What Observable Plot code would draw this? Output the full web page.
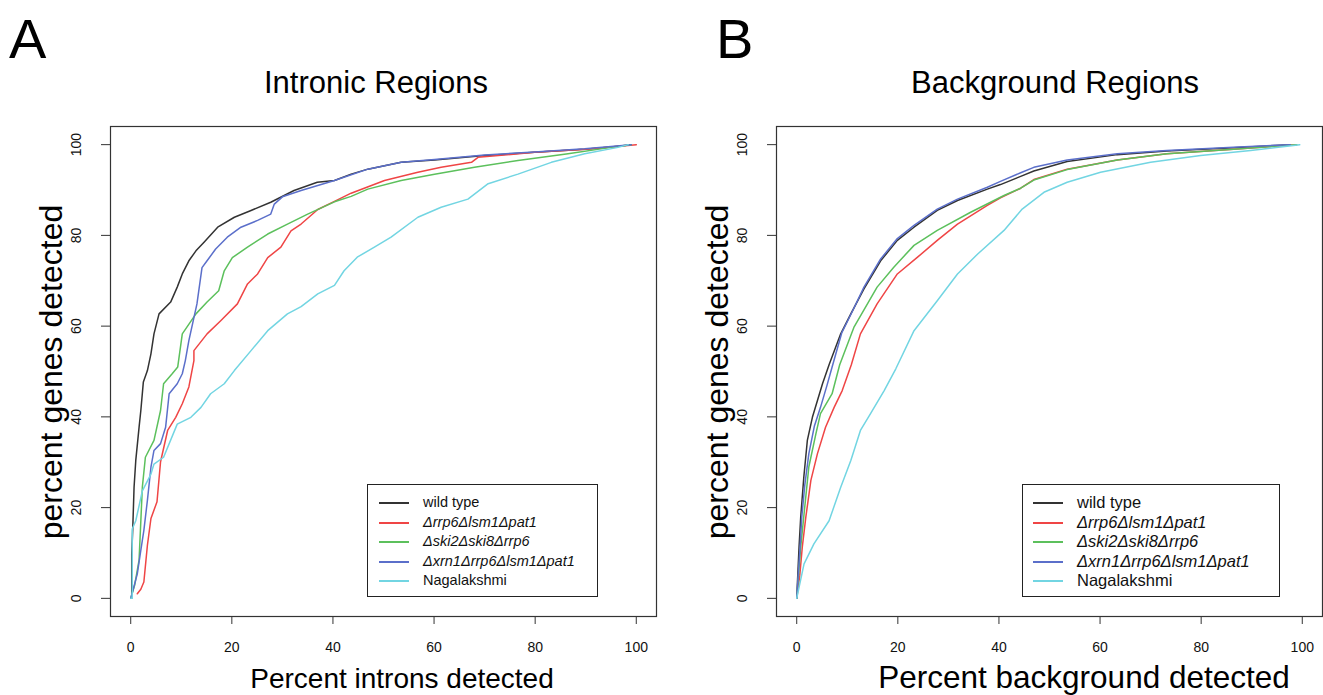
<!DOCTYPE html>
<html><head><meta charset="utf-8">
<script src="https://cdn.jsdelivr.net/npm/d3@7"></script>
<script src="https://cdn.jsdelivr.net/npm/@observablehq/plot@0.6"></script>
<style>
body{margin:0;background:#fff;}
#fig{position:relative;width:1323px;height:695px;overflow:hidden;background:#fff;font-family:"Liberation Sans",Arial,Helvetica,sans-serif;}
#fig .panel{position:absolute;top:0;}
#fig .overlay{position:absolute;top:0;left:0;pointer-events:none;}
.legend{position:absolute;border:1px solid #222;background:#fff;box-sizing:border-box;}
.legend .row{position:absolute;left:0;right:0;height:0;}
.legend .swatch{position:absolute;height:0;border-top:2px solid;transform:translateY(-1px);}
.legend .lab{position:absolute;white-space:nowrap;transform:translateY(-55%);color:#111;}
</style></head><body><div id="fig"></div><script>
// ---- series (legend order) ----
const seriesNames = ["wild type", "Δrrp6Δlsm1Δpat1", "Δski2Δski8Δrrp6", "Δxrn1Δrrp6Δlsm1Δpat1", "Nagalakshmi"];
const seriesColors = ["#333333", "#ef4545", "#5cc05c", "#5b6fca", "#72d5e2"];
const xTicks = [0, 20, 40, 60, 80, 100];
const yTicks = [0, 20, 40, 60, 80, 100];

// ---- Panel A: Intronic Regions  [percent introns detected, percent genes detected] ----
const intronWildType = [[0,0],[0.2,0],[0.2,9.8],[0.4,15.3],[0.66,24.5],[1.0,30.4],[1.65,37.7],[2.0,41.4],[2.5,47.7],[3.3,50.2],[4.0,53.9],[4.6,58.3],[5.6,62.7],[7.9,65.3],[9.2,68.6],[10.2,71.5],[11.5,74.4],[12.9,76.6],[14.5,78.5],[17.2,81.8],[20.5,84.0],[23.8,85.5],[27.7,87.3],[32.3,89.9],[36.9,91.7],[40.3,92.1],[43.6,93.5],[46.9,94.6],[53.5,96.1],[60.1,96.6],[70,97.6],[79.9,98.3],[89.8,99.0],[95,99.5],[99,100]];
const intronRrp6 = [[1.3,1],[2.0,2],[2.6,3.6],[3.3,11.7],[4.0,17.6],[5.2,21.3],[5.9,30.1],[7.3,37],[8.9,39.9],[10.2,42.9],[11.5,46.6],[12.5,52.4],[12.5,54.6],[15.1,58.3],[17.8,61.2],[21.1,64.9],[23.1,69.3],[25.1,71.5],[27.1,75.1],[29.7,77.4],[31.7,81],[33.7,82.5],[37,85.7],[40.3,87.5],[43.6,89.3],[50.2,92.1],[56.8,93.9],[61.4,95],[67.4,96.1],[68.7,97.2],[79.9,98.3],[90,99],[100,100]];
const intronSki = [[0,0],[0.8,3],[1.65,8.4],[2.3,24.5],[2.9,31.1],[4.6,34.8],[5.9,41.4],[6.5,47.3],[8.2,49.5],[9.3,51],[10.2,58.3],[12.9,62.7],[15.1,65.3],[17.4,67.8],[18.5,72.2],[20.1,75.1],[23.1,77.4],[27.1,80.3],[31.0,82.5],[35.0,84.7],[40.3,87.4],[43.6,88.6],[46.9,90.2],[53.5,92.1],[60.1,93.5],[68,95],[76.6,96.5],[86.5,98],[95,99.4],[99,100]];
const intronXrn1 = [[0,0],[0.5,2],[1.3,5.4],[2.0,10.6],[2.6,15],[3.3,21.6],[4.0,28.9],[4.6,32.6],[5.9,34.1],[6.9,37.7],[7.6,45.1],[9.2,47.3],[10.2,49.5],[10.8,52.4],[11.5,56.8],[13.1,64.9],[14.1,72.9],[15.1,74.4],[16.8,77.0],[19.1,79.6],[21.8,81.8],[25.1,83.3],[27.7,84.7],[28.4,86.9],[30,88.5],[33.7,89.9],[40.3,92.1],[46.9,94.6],[53.5,96.1],[60.1,96.7],[70,97.7],[79.9,98.4],[89.8,99.1],[95,99.6],[99,100]];
const intronNagalakshmi = [[0,0],[0.3,0],[0.3,15.3],[1.0,17.1],[2.3,23.7],[4.0,27.4],[4.6,29.6],[6.5,31.1],[9.2,38.4],[11.9,39.9],[13.9,42.1],[15.8,45.1],[18.5,47.3],[20.5,50.2],[23.8,54.6],[27.1,59],[31,62.7],[33.7,64.3],[37,67.1],[40.3,69],[42.2,72.2],[44.8,75.2],[48.2,77.4],[51.5,79.6],[56.8,84],[61.4,86.2],[66.7,88],[70.7,91.4],[76.6,93.5],[83.2,96.1],[89.8,98],[96.4,99.4],[98.4,100]];

// ---- Panel B: Background Regions  [percent background detected, percent genes detected] ----
const bgWildType = [[0,0],[0.46,11.3],[0.79,17.9],[1.4,26.7],[2.1,34.8],[3.1,39.9],[4.1,43.6],[5.1,47.3],[6.4,51.5],[8.7,58.3],[10.7,62.7],[13.3,68.2],[16.6,74.4],[19.9,78.9],[23.2,81.8],[27.8,85.5],[31.8,87.7],[37.7,90.2],[40.3,91.2],[44.3,93.0],[46.9,94.2],[53.5,96.3],[63.4,97.8],[73.2,98.6],[86.4,99.3],[97.6,100]];
const bgRrp6 = [[0,0],[0.6,5],[1.1,11.3],[1.8,17.9],[2.8,26],[4.1,31.9],[5.7,37.7],[7.4,42.1],[9,45.8],[10.8,51.5],[12.6,58.3],[15.9,64.9],[19.9,71.5],[23.9,75.2],[27.8,78.9],[31.8,82.5],[37.7,86.6],[40.3,88.3],[44.3,90.4],[46.9,92.3],[53.5,94.6],[63.4,96.6],[73.2,98],[86.4,99],[98.9,100]];
const bgSki = [[0,0],[0.79,11.3],[1.45,18.6],[2.4,29],[3.8,36.3],[4.7,40.7],[7.0,45.1],[8.5,51.5],[11.3,59.7],[15.9,68.6],[19.2,73],[23.2,77.8],[27.8,81.1],[34.4,85.1],[41,88.8],[44.3,90.4],[46.9,92.2],[53.5,94.5],[63.4,96.6],[73.2,98],[86.4,99],[98.9,100]];
const bgXrn1 = [[0,0],[0.66,11.3],[1.0,17.9],[1.6,25],[2.4,31.9],[3.5,38],[4.7,42.1],[6.0,47],[7.0,51],[8.9,58.5],[10.9,63],[13.3,68.6],[16.6,74.8],[19.9,79.3],[23.2,82.2],[27.8,85.8],[31.8,88],[37.7,90.6],[40.3,91.9],[44.3,93.8],[46.9,95],[53.5,96.6],[63.4,98],[73.2,98.7],[86.4,99.4],[97.6,100]];
const bgNagalakshmi = [[0,0],[0.46,2.4],[1.45,7.6],[3.4,12],[6.4,17.1],[8.7,24.5],[10.7,30.4],[12.6,37],[14.6,40.7],[17.3,45.8],[19.6,50.6],[23.2,59],[27.8,65.6],[31.8,71.5],[35.8,75.9],[41,81.1],[44.6,85.8],[48.9,89.5],[53.5,91.7],[60.1,93.9],[70,96.1],[79.9,97.6],[89.8,98.7],[99.5,100]];

const intronSeries = [intronWildType, intronRrp6, intronSki, intronXrn1, intronNagalakshmi];
const bgSeries = [bgWildType, bgRrp6, bgSki, bgXrn1, bgNagalakshmi];

function toRows(list) {
  return list.flatMap((pts, i) => pts.map(([x, y]) => ({series: seriesNames[i], x, y})));
}

function panel(list, cfg) {
  return Plot.plot({
    width: cfg.width, height: 695,
    marginLeft: cfg.ml, marginRight: cfg.mr, marginTop: 126, marginBottom: 79,
    x: {domain: [-4, 104]},
    y: {domain: [-4, 104]},
    color: {domain: seriesNames, range: seriesColors},
    style: {background: "transparent", color: "#333", fontFamily: "'Liberation Sans', Arial, sans-serif", overflow: "visible"},
    marks: [
      Plot.axisX({ticks: xTicks, tickSize: 8, tickPadding: 18, fontSize: 14, label: null, tickFormat: d => String(d), fill: "#111"}),
      Plot.axisY({ticks: yTicks, tickSize: 9, tickPadding: 21, tickRotate: -90, fontSize: 14, label: null, tickFormat: d => String(d), fill: "#111"}),
      Plot.line(toRows(list), {x: "x", y: "y", z: "series", stroke: "series", strokeWidth: 1.5, curve: "linear"}),
      Plot.frame({stroke: "#333", strokeWidth: 1.2})
    ]
  });
}

const fig = document.getElementById("fig");
const pA = panel(intronSeries, {width: 661, ml: 110, mr: 5});
pA.classList.add("panel"); pA.style.left = "0px";
fig.appendChild(pA);
const pB = panel(bgSeries, {width: 662, ml: 115, mr: 1});
pB.classList.add("panel"); pB.style.left = "661px";
fig.appendChild(pB);

// ---- text overlay ----
const ov = d3.select(fig).append("svg").attr("class", "overlay").attr("width", 1323).attr("height", 695)
  .attr("font-family", "'Liberation Sans', Arial, sans-serif").attr("fill", "#000");
const texts = [
  {t: "A", x: 9, y: 58, s: 56, a: "start"},
  {t: "B", x: 716, y: 58, s: 56, a: "start"},
  {t: "Intronic Regions", x: 376, y: 93, s: 31, a: "middle"},
  {t: "Background Regions", x: 1055, y: 93, s: 31, a: "middle"},
  {t: "Percent introns detected", x: 402, y: 688, s: 28, a: "middle"},
  {t: "Percent background detected", x: 1084, y: 688, s: 31.5, a: "middle"}
];
for (const d of texts) ov.append("text").attr("x", d.x).attr("y", d.y).attr("font-size", d.s).attr("text-anchor", d.a).text(d.t);
for (const cx of [62, 728]) {
  ov.append("text").attr("transform", `translate(${cx},372) rotate(-90)`).attr("font-size", 32).attr("text-anchor", "middle").text("percent genes detected");
}

// ---- legends ----
const italic = [false, true, true, true, false];
function legend(left, width, lineX, textX, fs) {
  const lg = document.createElement("div");
  lg.className = "legend";
  Object.assign(lg.style, {left: left + "px", top: "484px", width: width + "px", height: "113px"});
  const rowsY = [18, 37.5, 57, 76.5, 96];
  seriesNames.forEach((name, i) => {
    const row = document.createElement("div");
    row.className = "row"; row.style.top = rowsY[i] + "px";
    const sw = document.createElement("div");
    sw.className = "swatch";
    Object.assign(sw.style, {left: lineX + "px", width: "30px", borderTopColor: seriesColors[i]});
    const lab = document.createElement("div");
    lab.className = "lab"; lab.textContent = name;
    Object.assign(lab.style, {left: textX + "px", fontSize: fs + "px", fontStyle: italic[i] ? "italic" : "normal"});
    row.appendChild(sw); row.appendChild(lab); lg.appendChild(row);
  });
  fig.appendChild(lg);
}
legend(367, 231, 11, 55, 14.5);
legend(1022, 258, 10, 54, 16.5);
</script></body></html>
